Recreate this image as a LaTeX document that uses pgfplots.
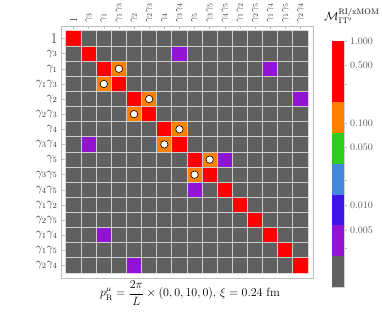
\documentclass[border=0pt]{standalone}
\usepackage{amsmath}
\usepackage{pgfplots}
\pgfplotsset{compat=1.18}
\definecolor{cgray}{RGB}{96,96,96}
\definecolor{cpurple}{RGB}{145,20,210}
\definecolor{corange}{RGB}{255,128,0}
\definecolor{cred}{RGB}{255,0,0}
\definecolor{cgreen}{RGB}{45,205,30}
\definecolor{clblue}{RGB}{68,136,220}
\definecolor{cindigo}{RGB}{60,20,230}
\definecolor{framegray}{RGB}{190,190,190}
\definecolor{gridc}{RGB}{205,205,205}
\begin{document}
\begin{tikzpicture}[x=1pt,y=1pt]
\useasboundingbox (0,0) rectangle (382,313);
\begin{axis}[
  at={(61pt,35pt)}, anchor=south west,
  scale only axis, width=252pt, height=252pt,
  xmin=-0.83, xmax=15.83, ymin=-0.83, ymax=15.83,
  xtick={0,...,15}, ytick={0,...,15},
  xticklabels={$1$,$\gamma_3$,$\gamma_1$,$\gamma_1\gamma_3$,$\gamma_2$,$\gamma_2\gamma_3$,$\gamma_4$,$\gamma_3\gamma_4$,$\gamma_5$,$\gamma_3\gamma_5$,$\gamma_4\gamma_5$,$\gamma_1\gamma_2$,$\gamma_2\gamma_5$,$\gamma_1\gamma_4$,$\gamma_1\gamma_5$,$\gamma_2\gamma_4$},
  yticklabels={$\gamma_2\gamma_4$,$\gamma_1\gamma_5$,$\gamma_1\gamma_4$,$\gamma_2\gamma_5$,$\gamma_1\gamma_2$,$\gamma_4\gamma_5$,$\gamma_3\gamma_5$,$\gamma_5$,$\gamma_3\gamma_4$,$\gamma_4$,$\gamma_2\gamma_3$,$\gamma_2$,$\gamma_1\gamma_3$,$\gamma_1$,$\gamma_3$,{\fontsize{15}{16}\selectfont 1}},
  xtick pos=right, xticklabel pos=right,
  ytick pos=left, yticklabel pos=left,
  tick align=inside,
  xticklabel style={rotate=90, anchor=west, font=\fontsize{10}{12}\selectfont, text=black!80},
  yticklabel style={font=\fontsize{12}{14}\selectfont, text=black!80},
  major tick length=3.5pt,
  tick style={draw=framegray, line width=0.5pt},
  axis line style={draw=framegray, line width=0.9pt},
  colormap={cat}{rgb255=(96,96,96) rgb255=(145,20,210) rgb255=(255,128,0) rgb255=(255,0,0)},
  point meta min=0, point meta max=3,
]
\addplot[matrix plot*, mesh/cols=16, point meta=explicit]
 table[x=x, y expr=15-\thisrow{r}, meta=c, row sep=\\]{
x r c\\
0 0 3\\ 1 0 0\\ 2 0 0\\ 3 0 0\\ 4 0 0\\ 5 0 0\\ 6 0 0\\ 7 0 0\\ 8 0 0\\ 9 0 0\\ 10 0 0\\ 11 0 0\\ 12 0 0\\ 13 0 0\\ 14 0 0\\ 15 0 0\\
0 1 0\\ 1 1 3\\ 2 1 0\\ 3 1 0\\ 4 1 0\\ 5 1 0\\ 6 1 0\\ 7 1 1\\ 8 1 0\\ 9 1 0\\ 10 1 0\\ 11 1 0\\ 12 1 0\\ 13 1 0\\ 14 1 0\\ 15 1 0\\
0 2 0\\ 1 2 0\\ 2 2 3\\ 3 2 2\\ 4 2 0\\ 5 2 0\\ 6 2 0\\ 7 2 0\\ 8 2 0\\ 9 2 0\\ 10 2 0\\ 11 2 0\\ 12 2 0\\ 13 2 1\\ 14 2 0\\ 15 2 0\\
0 3 0\\ 1 3 0\\ 2 3 2\\ 3 3 3\\ 4 3 0\\ 5 3 0\\ 6 3 0\\ 7 3 0\\ 8 3 0\\ 9 3 0\\ 10 3 0\\ 11 3 0\\ 12 3 0\\ 13 3 0\\ 14 3 0\\ 15 3 0\\
0 4 0\\ 1 4 0\\ 2 4 0\\ 3 4 0\\ 4 4 3\\ 5 4 2\\ 6 4 0\\ 7 4 0\\ 8 4 0\\ 9 4 0\\ 10 4 0\\ 11 4 0\\ 12 4 0\\ 13 4 0\\ 14 4 0\\ 15 4 1\\
0 5 0\\ 1 5 0\\ 2 5 0\\ 3 5 0\\ 4 5 2\\ 5 5 3\\ 6 5 0\\ 7 5 0\\ 8 5 0\\ 9 5 0\\ 10 5 0\\ 11 5 0\\ 12 5 0\\ 13 5 0\\ 14 5 0\\ 15 5 0\\
0 6 0\\ 1 6 0\\ 2 6 0\\ 3 6 0\\ 4 6 0\\ 5 6 0\\ 6 6 3\\ 7 6 2\\ 8 6 0\\ 9 6 0\\ 10 6 0\\ 11 6 0\\ 12 6 0\\ 13 6 0\\ 14 6 0\\ 15 6 0\\
0 7 0\\ 1 7 1\\ 2 7 0\\ 3 7 0\\ 4 7 0\\ 5 7 0\\ 6 7 2\\ 7 7 3\\ 8 7 0\\ 9 7 0\\ 10 7 0\\ 11 7 0\\ 12 7 0\\ 13 7 0\\ 14 7 0\\ 15 7 0\\
0 8 0\\ 1 8 0\\ 2 8 0\\ 3 8 0\\ 4 8 0\\ 5 8 0\\ 6 8 0\\ 7 8 0\\ 8 8 3\\ 9 8 2\\ 10 8 1\\ 11 8 0\\ 12 8 0\\ 13 8 0\\ 14 8 0\\ 15 8 0\\
0 9 0\\ 1 9 0\\ 2 9 0\\ 3 9 0\\ 4 9 0\\ 5 9 0\\ 6 9 0\\ 7 9 0\\ 8 9 2\\ 9 9 3\\ 10 9 0\\ 11 9 0\\ 12 9 0\\ 13 9 0\\ 14 9 0\\ 15 9 0\\
0 10 0\\ 1 10 0\\ 2 10 0\\ 3 10 0\\ 4 10 0\\ 5 10 0\\ 6 10 0\\ 7 10 0\\ 8 10 1\\ 9 10 0\\ 10 10 3\\ 11 10 0\\ 12 10 0\\ 13 10 0\\ 14 10 0\\ 15 10 0\\
0 11 0\\ 1 11 0\\ 2 11 0\\ 3 11 0\\ 4 11 0\\ 5 11 0\\ 6 11 0\\ 7 11 0\\ 8 11 0\\ 9 11 0\\ 10 11 0\\ 11 11 3\\ 12 11 0\\ 13 11 0\\ 14 11 0\\ 15 11 0\\
0 12 0\\ 1 12 0\\ 2 12 0\\ 3 12 0\\ 4 12 0\\ 5 12 0\\ 6 12 0\\ 7 12 0\\ 8 12 0\\ 9 12 0\\ 10 12 0\\ 11 12 0\\ 12 12 3\\ 13 12 0\\ 14 12 0\\ 15 12 0\\
0 13 0\\ 1 13 0\\ 2 13 1\\ 3 13 0\\ 4 13 0\\ 5 13 0\\ 6 13 0\\ 7 13 0\\ 8 13 0\\ 9 13 0\\ 10 13 0\\ 11 13 0\\ 12 13 0\\ 13 13 3\\ 14 13 0\\ 15 13 0\\
0 14 0\\ 1 14 0\\ 2 14 0\\ 3 14 0\\ 4 14 0\\ 5 14 0\\ 6 14 0\\ 7 14 0\\ 8 14 0\\ 9 14 0\\ 10 14 0\\ 11 14 0\\ 12 14 0\\ 13 14 0\\ 14 14 3\\ 15 14 0\\
0 15 0\\ 1 15 0\\ 2 15 0\\ 3 15 0\\ 4 15 1\\ 5 15 0\\ 6 15 0\\ 7 15 0\\ 8 15 0\\ 9 15 0\\ 10 15 0\\ 11 15 0\\ 12 15 0\\ 13 15 0\\ 14 15 0\\ 15 15 3\\
};
\pgfplotsinvokeforeach{0.5,1.5,...,14.5}{
  \draw[gridc, line width=0.9pt] (axis cs:#1,-0.5) -- (axis cs:#1,15.5);
  \draw[gridc, line width=0.9pt] (axis cs:-0.5,#1) -- (axis cs:15.5,#1);
}
\addplot[only marks, mark=*, mark size=3.7pt, mark options={fill=white, draw=black, line width=0.6pt}]
 coordinates {(3,13) (2,12) (5,11) (4,10) (7,9) (6,8) (9,7) (8,6)};
\end{axis}
\begin{axis}[
  at={(332pt,26pt)}, anchor=south west,
  scale only axis, width=12pt, height=246.3pt,
  xmin=0, xmax=1, ymin=0, ymax=8,
  xtick=\empty,
  ytick={7.97,7.19,5.31,4.53,2.64,1.85},
  yticklabels={1.000,0.500,0.100,0.050,0.010,0.005},
  minor ytick={6.57,3.47,1.26},
  ytick pos=right, yticklabel pos=right,
  tick align=outside,
  major tick length=2.5pt, minor tick length=2.5pt,
  tick style={draw=framegray, line width=0.5pt},
  axis line style={draw=gray!35, line width=0.4pt},
  yticklabel style={font=\fontsize{10}{12}\selectfont, text=black!65},
]
\addplot[fill=cgray, draw=none] coordinates {(0,0) (1,0) (1,1) (0,1)} -- cycle;
\addplot[fill=cpurple, draw=none] coordinates {(0,1) (1,1) (1,2) (0,2)} -- cycle;
\addplot[fill=cindigo, draw=none] coordinates {(0,2) (1,2) (1,3) (0,3)} -- cycle;
\addplot[fill=clblue, draw=none] coordinates {(0,3) (1,3) (1,4) (0,4)} -- cycle;
\addplot[fill=cgreen, draw=none] coordinates {(0,4) (1,4) (1,5) (0,5)} -- cycle;
\addplot[fill=corange, draw=none] coordinates {(0,5) (1,5) (1,6) (0,6)} -- cycle;
\addplot[fill=cred, draw=none] coordinates {(0,6) (1,6) (1,8) (0,8)} -- cycle;
\end{axis}
\node[anchor=west, inner sep=0pt] at (324,297) {\fontsize{12}{14}\selectfont $\mathcal{M}^{\mathrm{RI/xMOM}}_{\Gamma\Gamma'}$};
\node[inner sep=0pt] at (190,20) {\fontsize{12}{14}\selectfont $p_{\mathrm{R}}^{\mu}=\dfrac{2\pi}{L}\times(0,0,10,0)$, $\xi=0.24$ fm};
\end{tikzpicture}
\end{document}
